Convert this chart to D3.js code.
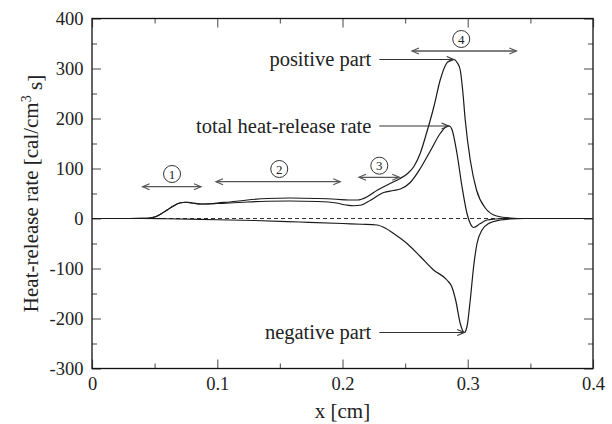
<!DOCTYPE html>
<html lang="en">
<head>
<meta charset="UTF-8">
<title>Heat-release rate</title>
<style>
  body { margin: 0; background: #fff; }
  text { font-family: "Liberation Serif", "Times New Roman", serif; fill: #222; }
  .axis path { display: none; }
  .axis line { stroke: #666; stroke-width: 1.2; }
  .axis text { font-size: 18.5px; }
</style>
</head>
<body>
<script src="https://cdn.jsdelivr.net/npm/d3@7"></script>
<script>
// positive part of the heat-release rate
var posX = [0, 0.03, 0.04, 0.046, 0.05, 0.055, 0.06, 0.065, 0.07, 0.075, 0.08, 0.087, 0.095, 0.1, 0.11, 0.124, 0.14, 0.158, 0.18, 0.195, 0.205, 0.212, 0.22, 0.228, 0.238, 0.246, 0.252, 0.257, 0.262, 0.267, 0.273, 0.278, 0.283, 0.2865, 0.289, 0.2915, 0.294, 0.296, 0.298, 0.302, 0.307, 0.314, 0.323, 0.334, 0.345, 0.4]
var posY = [0, 0, 0.3, 1, 3, 9, 17, 25, 31, 32.5, 31, 29, 29.5, 31, 33, 37, 40, 41, 40, 38.5, 37, 37, 44, 57, 70, 80, 90, 104, 130, 170, 224, 277, 310, 317, 318, 312, 297, 255, 197, 117, 57, 21, 5, 1, 0, 0]
// total heat-release rate
var totX = [0, 0.03, 0.04, 0.046, 0.05, 0.055, 0.06, 0.065, 0.07, 0.075, 0.08, 0.087, 0.095, 0.1, 0.11, 0.124, 0.14, 0.158, 0.18, 0.195, 0.203, 0.209, 0.215, 0.222, 0.2328, 0.2408, 0.2462, 0.2541, 0.2621, 0.2701, 0.278, 0.2825, 0.2852, 0.2874, 0.2914, 0.2954, 0.2994, 0.302, 0.3047, 0.31, 0.3154, 0.322, 0.33, 0.4]
var totY = [0, 0, 0.3, 1, 3, 9, 17, 25, 31, 32.5, 31, 29, 29.5, 30, 31, 33, 34.5, 35, 34, 31, 27, 25.5, 27, 36, 52, 56, 59, 72, 100, 135, 170, 183, 185, 178, 130, 64, 10, -10, -18, -10, -3, -1, 0, 0]
// negative part
var negX = [0, 0.04, 0.06, 0.1, 0.13, 0.166, 0.2, 0.215, 0.2275, 0.234, 0.2408, 0.2515, 0.2621, 0.2727, 0.2834, 0.2875, 0.2905, 0.294, 0.2972, 0.2994, 0.302, 0.3047, 0.3074, 0.3114, 0.3167, 0.326, 0.334, 0.345, 0.4]
var negY = [0, 0, -0.5, -2.5, -4, -7, -10, -11.5, -13, -19, -30, -50, -76, -103, -123, -138, -165, -210, -228, -216, -163, -96, -50, -23, -10, -3, -1, 0, 0]

// axis ticks
var xTicks = [0, 0.1, 0.2, 0.3, 0.4]
var xMinor = [0.05, 0.15, 0.25, 0.35]
var yTicks = [-300, -200, -100, 0, 100, 200, 300, 400]
var yMinor = [-250, -150, -50, 50, 150, 250, 350]

// region markers (circled numbers with double arrows)
var zoneNames = ['1', '2', '3', '4']
var zoneFrom = [0.0404, 0.099, 0.2132, 0.2555]
var zoneTo = [0.087, 0.1982, 0.2453, 0.3388]
var zoneY = [63.6, 73.6, 82.4, 335]
var zoneLabelX = [0.0639, 0.1495, 0.2294, 0.2948]
var zoneLabelY = [89, 99, 105.6, 359]

// curve call-outs
var calloutText = ['positive part', 'total heat-release rate', 'negative part']
var calloutFromX = [0.2294, 0.2294, 0.2294]
var calloutToX = [0.2888, 0.2847, 0.2972]
var calloutY = [318, 185, -228]

var width = 612, height = 424
var margin = { top: 18.5, right: 19, bottom: 55.5, left: 92 }
var w = width - margin.left - margin.right
var h = height - margin.top - margin.bottom

var svg = d3.select('body').append('svg')
    .attr('width', width)
    .attr('height', height)

var defs = svg.append('defs')
function addMarker(id, color) {
    defs.append('marker')
        .attr('id', id)
        .attr('viewBox', '-1 -5 10 10')
        .attr('refX', 7).attr('refY', 0)
        .attr('markerWidth', 10).attr('markerHeight', 10)
        .attr('markerUnits', 'userSpaceOnUse')
        .attr('orient', 'auto-start-reverse')
        .append('path')
        .attr('d', 'M0,-3L7,0L0,3')
        .attr('fill', 'none')
        .attr('stroke', color)
        .attr('stroke-width', 1.2)
}
addMarker('headGray', '#555')
addMarker('headDark', '#333')

var g = svg.append('g').attr('transform', 'translate(' + margin.left + ',' + margin.top + ')')

var x = d3.scaleLinear().domain([0, 0.4]).range([0, w])
var y = d3.scaleLinear().domain([-300, 400]).range([h, 0])

var fmt = function (d) { return String(d) }

// major and minor ticks on all four sides, pointing inward
g.append('g').attr('class', 'axis').attr('transform', 'translate(0,' + h + ')')
    .call(d3.axisBottom(x).tickValues(xTicks).tickSize(-9).tickPadding(8).tickFormat(fmt))
g.append('g').attr('class', 'axis').attr('transform', 'translate(0,' + h + ')')
    .call(d3.axisBottom(x).tickValues(xMinor).tickSize(-5).tickFormat(''))
g.append('g').attr('class', 'axis')
    .call(d3.axisTop(x).tickValues(xTicks).tickSize(-9).tickFormat(''))
g.append('g').attr('class', 'axis')
    .call(d3.axisTop(x).tickValues(xMinor).tickSize(-5).tickFormat(''))
g.append('g').attr('class', 'axis')
    .call(d3.axisLeft(y).tickValues(yTicks).tickSize(-9).tickPadding(8.5).tickFormat(fmt))
g.append('g').attr('class', 'axis')
    .call(d3.axisLeft(y).tickValues(yMinor).tickSize(-5).tickFormat(''))
g.append('g').attr('class', 'axis').attr('transform', 'translate(' + w + ',0)')
    .call(d3.axisRight(y).tickValues(yTicks).tickSize(-9).tickFormat(''))
g.append('g').attr('class', 'axis').attr('transform', 'translate(' + w + ',0)')
    .call(d3.axisRight(y).tickValues(yMinor).tickSize(-5).tickFormat(''))

// plot frame
g.append('rect')
    .attr('width', w).attr('height', h)
    .attr('fill', 'none').attr('stroke', '#111').attr('stroke-width', 1.3)

// dashed zero line
g.append('line')
    .attr('x1', x(0)).attr('x2', x(0.4))
    .attr('y1', y(0)).attr('y2', y(0))
    .attr('stroke', '#333').attr('stroke-width', 1.1)
    .attr('stroke-dasharray', '4,3')

var line = d3.line()
    .x(function (d) { return x(d[0]) })
    .y(function (d) { return y(d[1]) })
    .curve(d3.curveMonotoneX)

var series = [
    d3.zip(posX, posY),
    d3.zip(totX, totY),
    d3.zip(negX, negY)
]
g.selectAll('.curve')
    .data(series)
    .enter()
    .append('path')
    .attr('class', 'curve')
    .attr('d', line)
    .attr('fill', 'none')
    .attr('stroke', '#1a1a1a')
    .attr('stroke-width', 1.2)

// region spans
zoneNames.forEach(function (name, i) {
    g.append('line')
        .attr('x1', x(zoneFrom[i])).attr('x2', x(zoneTo[i]))
        .attr('y1', y(zoneY[i])).attr('y2', y(zoneY[i]))
        .attr('stroke', '#555').attr('stroke-width', 1.3)
        .attr('marker-start', 'url(#headGray)')
        .attr('marker-end', 'url(#headGray)')
    g.append('circle')
        .attr('cx', x(zoneLabelX[i])).attr('cy', y(zoneLabelY[i]))
        .attr('r', 8.5)
        .attr('fill', 'none').attr('stroke', '#333').attr('stroke-width', 1)
    g.append('text')
        .attr('x', x(zoneLabelX[i])).attr('y', y(zoneLabelY[i]))
        .attr('dy', '0.35em')
        .attr('text-anchor', 'middle')
        .style('font-size', '13px')
        .text(name)
})

// call-outs pointing at the peaks
calloutText.forEach(function (t, i) {
    g.append('line')
        .attr('x1', x(calloutFromX[i])).attr('x2', x(calloutToX[i]))
        .attr('y1', y(calloutY[i])).attr('y2', y(calloutY[i]))
        .attr('stroke', '#333').attr('stroke-width', 1.2)
        .attr('marker-end', 'url(#headDark)')
    g.append('text')
        .attr('x', x(calloutFromX[i]) - 8).attr('y', y(calloutY[i]))
        .attr('dy', '0.32em')
        .attr('text-anchor', 'end')
        .style('font-size', '20.5px')
        .text(t)
})

// axis titles
svg.append('text')
    .attr('x', margin.left + w / 2).attr('y', 418)
    .attr('text-anchor', 'middle')
    .style('font-size', '21px')
    .text('x [cm]')

var yl = svg.append('text')
    .attr('transform', 'translate(38,' + (margin.top + h / 2) + ') rotate(-90)')
    .attr('text-anchor', 'middle')
    .style('font-size', '21px')
yl.append('tspan').text('Heat-release rate [cal/cm')
yl.append('tspan').attr('dy', '-0.5em').style('font-size', '14px').text('3')
yl.append('tspan').attr('dy', '0.5em').text(' s]')
</script>
</body>
</html>
